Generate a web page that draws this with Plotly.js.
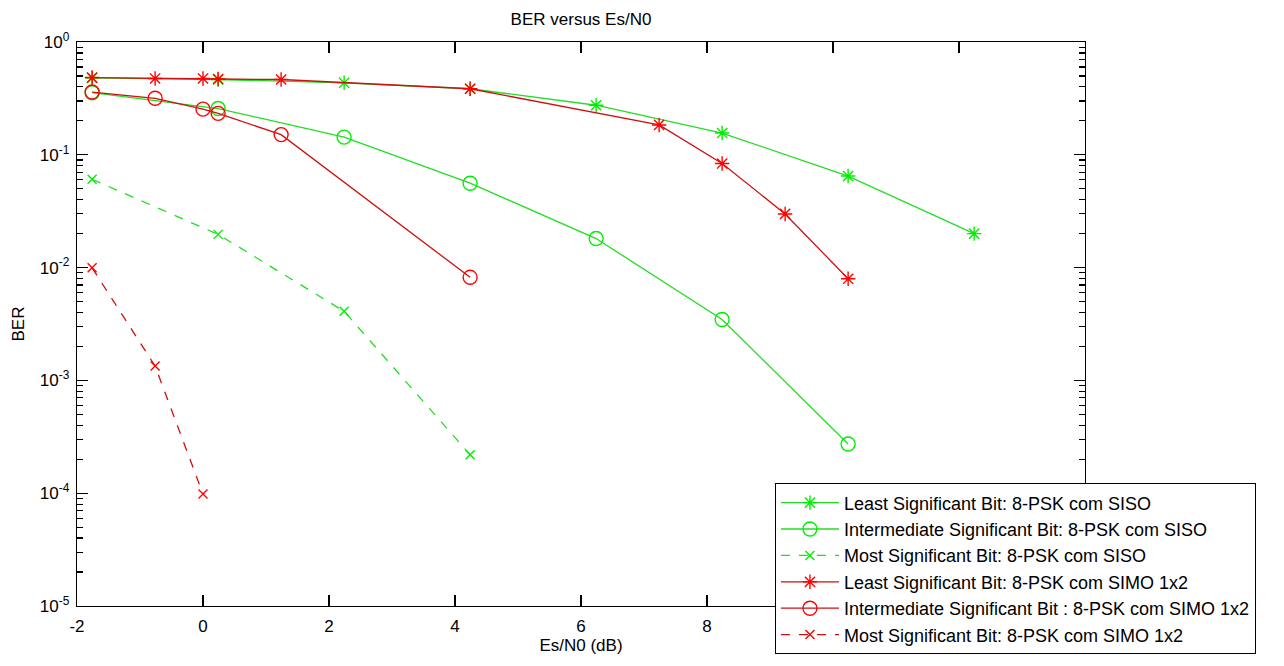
<!DOCTYPE html>
<html>
<head>
<meta charset="utf-8">
<script src="https://cdn.plot.ly/plotly-3.0.1.min.js"></script>
<style>html,body{margin:0;padding:0;background:#fff;}#chart{width:1284px;height:666px;}</style>
</head>
<body>
<div id="chart"></div>
<script>
// Es/N0 (dB) values
const xLsbSiso = [-1.76, 0.24, 2.24, 4.24, 6.24, 8.24, 10.24, 12.24];
const lsbSiso  = [0.48, 0.465, 0.435, 0.385, 0.275, 0.156, 0.0648, 0.020];

const xIsbSiso = [-1.76, 0.24, 2.24, 4.24, 6.24, 8.24, 10.24];
const isbSiso  = [0.355, 0.257, 0.1435, 0.056, 0.0181, 0.00347, 0.000273];

const xMsbSiso = [-1.76, 0.24, 2.24, 4.24];
const msbSiso  = [0.0607, 0.0197, 0.0041, 0.000219];

const xLsbSimo = [-1.76, -0.76, 0, 0.24, 1.24, 4.24, 7.24, 8.24, 9.24, 10.24];
const lsbSimo  = [0.484, 0.475, 0.475, 0.47, 0.465, 0.385, 0.184, 0.0837, 0.0299, 0.00796];

const xIsbSimo = [-1.76, -0.76, 0, 0.24, 1.24, 4.24];
const isbSimo  = [0.36, 0.317, 0.254, 0.233, 0.151, 0.0082];

const xMsbSimo = [-1.76, -0.76, 0];
const msbSimo  = [0.00995, 0.00134, 0.0000982];

const names = [
  'Least Significant Bit: 8-PSK com SISO',
  'Intermediate Significant Bit: 8-PSK com SISO',
  'Most Significant Bit: 8-PSK com SISO',
  'Least Significant Bit: 8-PSK com SIMO 1x2',
  'Intermediate Significant Bit : 8-PSK com SIMO 1x2',
  'Most Significant Bit: 8-PSK com SIMO 1x2'
];

// x ticks: labels 10, 12, 14 are hidden behind the legend in the reference
const xTickVals = [-2, 0, 2, 4, 6, 8, 10, 12, 14];
const xTickText = ['-2', '0', '2', '4', '6', '8', '', '', ''];

const yTickVals = [1e-5, 1e-4, 1e-3, 1e-2, 1e-1, 1];
const yTickText = ['10<sup>-5</sup>', '10<sup>-4</sup>', '10<sup>-3</sup>', '10<sup>-2</sup>', '10<sup>-1</sup>', '10<sup>0</sup>'];

const G = '#00ee00', GL = '#22dd22';
const R = '#ff0000', RL = '#cc1010';

function tr(x, y, name, lc, mc, sym, dash, msize) {
  return {
    x: x, y: y, name: name, type: 'scatter', mode: 'lines+markers',
    line: {color: lc, width: 1.3, dash: dash},
    marker: {symbol: sym, size: msize, color: mc, line: {color: mc, width: 1.4}}
  };
}

const data = [
  tr(xLsbSiso, lsbSiso, names[0], GL, G, 'asterisk-open', 'solid', 12),
  tr(xIsbSiso, isbSiso, names[1], GL, G, 'circle-open', 'solid', 14),
  tr(xMsbSiso, msbSiso, names[2], GL, G, 'x-thin-open', 'dash', 9),
  tr(xLsbSimo, lsbSimo, names[3], RL, R, 'asterisk-open', 'solid', 12),
  tr(xIsbSimo, isbSimo, names[4], RL, R, 'circle-open', 'solid', 14),
  tr(xMsbSimo, msbSimo, names[5], RL, R, 'x-thin-open', 'dash', 9)
];

const layout = {
  width: 1284, height: 666,
  margin: {l: 77, r: 199, t: 42, b: 53},
  paper_bgcolor: '#fff', plot_bgcolor: '#fff',
  font: {family: 'Liberation Sans, Arial, sans-serif', size: 17, color: '#000'},
  title: {text: 'BER versus Es/N0', x: 0.5, xref: 'paper', y: 0.972, yanchor: 'middle', font: {size: 17}},
  showlegend: true,
  legend: {
    x: 1.1696, xanchor: 'right', y: -0.0858, yanchor: 'bottom',
    bgcolor: '#fff', bordercolor: '#000', borderwidth: 1,
    font: {size: 18}, tracegroupgap: 0, itemwidth: 58
  },
  xaxis: {
    range: [-2, 14], tickvals: xTickVals, ticktext: xTickText,
    ticks: 'inside', ticklen: 11, tickcolor: '#000', tickwidth: 1.3,
    showline: true, linecolor: '#000', linewidth: 1.3, mirror: 'ticks',
    showgrid: false, zeroline: false,
    tickfont: {size: 17}, ticklabelstandoff: 4,
    title: {text: 'Es/N0 (dB)', font: {size: 17}, standoff: 3}
  },
  yaxis: {
    type: 'log', range: [-5, 0],
    tickvals: yTickVals, ticktext: yTickText,
    ticks: 'inside', ticklen: 11, tickcolor: '#000', tickwidth: 1.3,
    showline: true, linecolor: '#000', linewidth: 1.3, mirror: 'ticks',
    showgrid: false, zeroline: false,
    tickfont: {size: 17}, ticklabelstandoff: 3,
    minor: {ticks: 'inside', ticklen: 6, tickcolor: '#000', tickwidth: 1.2, dtick: 'D1', showgrid: false},
    title: {text: 'BER', font: {size: 17}, standoff: 10}
  }
};

Plotly.newPlot('chart', data, layout, {displayModeBar: false, staticPlot: true});
</script>
</body>
</html>
